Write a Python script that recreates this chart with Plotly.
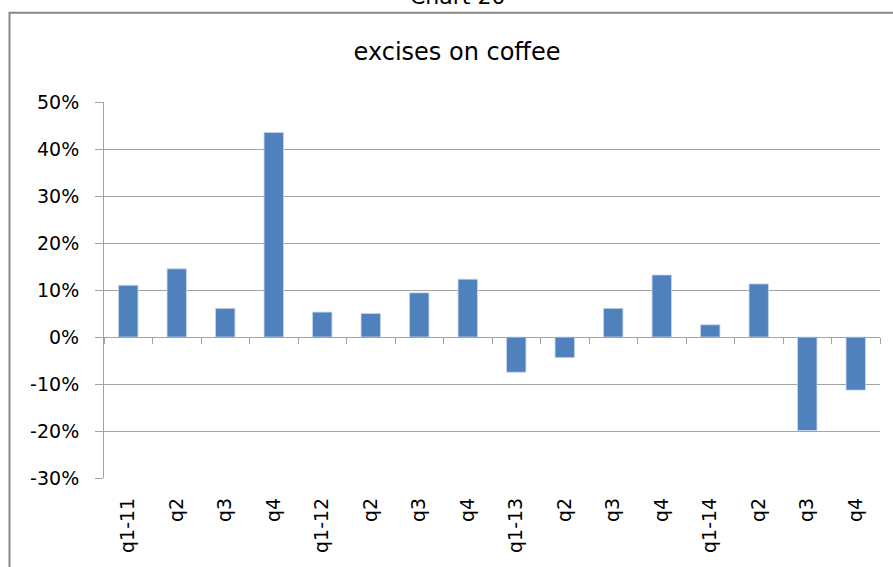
import plotly.graph_objects as go

categories = ["q1-11", "q2", "q3", "q4", "q1-12", "q2", "q3", "q4",
              "q1-13", "q2", "q3", "q4", "q1-14", "q2", "q3", "q4"]
values = [0.110, 0.145, 0.061, 0.435, 0.053, 0.050, 0.094, 0.123,
          -0.075, -0.044, 0.061, 0.132, 0.026, 0.113, -0.199, -0.113]
y_ticks = [-0.3, -0.2, -0.1, 0.0, 0.1, 0.2, 0.3, 0.4, 0.5]
y_tick_labels = ["-30%", "-20%", "-10%", "0%", "10%", "20%", "30%", "40%", "50%"]

FONT = "DejaVu Sans"
GRID = "#a3a3a3"
BAR = "#4f81bd"
TXT = "#000000"

positions = list(range(len(categories)))
ymin, ymax = y_ticks[0], y_ticks[-1]
zero_frac = (0 - ymin) / (ymax - ymin)
boundaries = [p - 0.5 for p in positions] + [positions[-1] + 0.5]

fig = go.Figure()
fig.add_trace(go.Bar(
    x=positions, y=values,
    marker=dict(color=BAR, line=dict(color="rgba(200,215,235,0.8)", width=1)),
    width=0.4, hoverinfo="skip", showlegend=False,
))
# invisible helper trace so the zero-crossing category axis is drawn
fig.add_trace(go.Scatter(x=[positions[0]], y=[0], xaxis="x2", mode="markers",
                         marker=dict(opacity=0), hoverinfo="skip", showlegend=False))

fig.update_layout(
    width=893, height=567,
    margin=dict(l=104, r=13, t=102, b=89),
    paper_bgcolor="white", plot_bgcolor="white",
    font=dict(family=FONT, color=TXT),
    title=dict(text="excises on coffee", font=dict(family=FONT, size=24, color=TXT),
               x=457 / 893, xref="container", xanchor="center",
               y=1 - 52 / 567, yref="container", yanchor="middle"),
    xaxis=dict(range=[-0.5, len(categories) - 0.5], tickmode="array",
               tickvals=positions, ticktext=categories, tickangle=-90,
               showgrid=False, zeroline=False, showline=False, ticks="",
               tickfont=dict(family=FONT, size=19, color=TXT),
               ticklabelstandoff=15),
    xaxis2=dict(overlaying="x", anchor="free", position=zero_frac,
                range=[-0.5, len(categories) - 0.5], tickmode="array",
                tickvals=boundaries, showticklabels=False, ticks="outside",
                ticklen=6, tickcolor=GRID, showline=True, linecolor=GRID,
                linewidth=1, showgrid=False, zeroline=False),
    yaxis=dict(range=[ymin, ymax], tickmode="array", tickvals=y_ticks,
               ticktext=y_tick_labels, showgrid=True, gridcolor=GRID, gridwidth=1,
               zeroline=False, showline=True, linecolor=GRID, linewidth=1,
               ticks="outside", ticklen=8, tickcolor=GRID,
               tickfont=dict(family=FONT, size=19, color=TXT),
               ticklabelstandoff=12),
    bargap=0.6,
    shapes=[dict(type="rect", xref="paper", yref="paper",
                 x0=(9.5 - 104) / 776, x1=1.2, y0=-0.5, y1=(478 - 12.7) / 376,
                 line=dict(color="#878787", width=2), fillcolor="rgba(0,0,0,0)",
                 layer="below")],
    annotations=[dict(text="Chart 20", xref="paper", yref="paper",
                      x=(457 - 104) / 776, y=(478 + 4) / 376,
                      xanchor="center", yanchor="middle", showarrow=False,
                      font=dict(family=FONT, size=22, color=TXT))],
)

fig.write_html("out.html")
